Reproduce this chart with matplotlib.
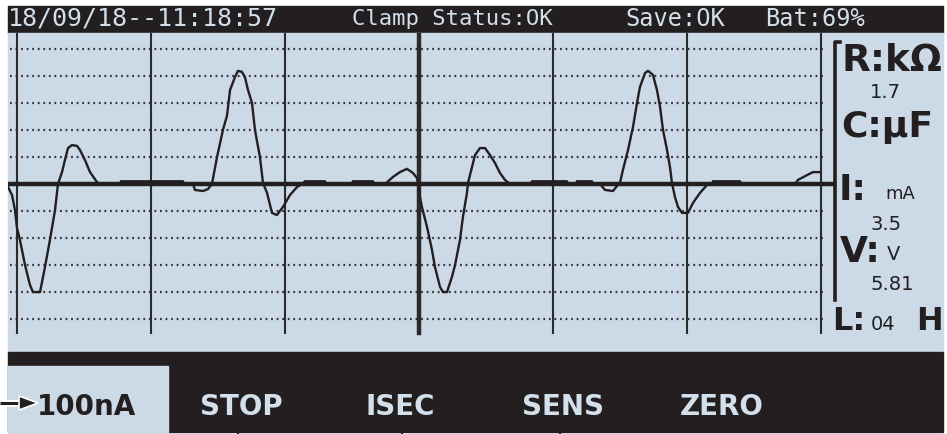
import matplotlib
matplotlib.use('agg')
import matplotlib.pyplot as plt
from matplotlib.patches import Rectangle, Polygon
from matplotlib.lines import Line2D

# screen colours
BLUE = '#ccd9e6'
DARK = '#231f20'
LIGHT = '#d3dfeb'

# status bar
status_text = ['18/09/18--11:18:57', 'Clamp Status:OK', 'Save:OK', 'Bat:69%']
status_x = [8, 352, 625, 765]

# soft keys
key_labels = ['100nA', 'STOP', 'ISEC', 'SENS', 'ZERO']
key_x = [37, 200, 365, 522, 680]

# grid (divisions)
grid_t = [0, 1, 2, 3, 4, 5, 6]
dot_levels = [-5, -4, -3, -2, -1, 1, 2, 3, 4, 5]

# captured trace, time and amplitude in divisions
trace_t = [-0.067, -0.037, -0.015, 0.0, 0.022, 0.060, 0.097, 0.119, 0.172, 0.209,
           0.246, 0.284, 0.306, 0.336, 0.358, 0.381, 0.410, 0.448, 0.470, 0.507,
           0.545, 0.597, 0.619, 0.769, 0.776, 1.239, 1.246, 1.313, 1.328, 1.388,
           1.425, 1.455, 1.493, 1.537, 1.567, 1.590, 1.627, 1.649, 1.679, 1.701,
           1.724, 1.754, 1.776, 1.813, 1.836, 1.866, 1.903, 1.940, 1.985, 2.037,
           2.090, 2.127, 2.149, 2.299, 2.306, 2.500, 2.507, 2.657, 2.664, 2.746,
           2.806, 2.858, 2.910, 2.955, 2.985, 2.993, 3.007, 3.022, 3.060, 3.097,
           3.119, 3.157, 3.179, 3.209, 3.246, 3.269, 3.306, 3.328, 3.358, 3.366,
           3.396, 3.418, 3.455, 3.493, 3.530, 3.567, 3.604, 3.642, 3.679, 3.836,
           3.843, 4.104, 4.112, 4.172, 4.179, 4.291, 4.299, 4.351, 4.388, 4.448,
           4.478, 4.500, 4.522, 4.560, 4.597, 4.627, 4.649, 4.687, 4.709, 4.746,
           4.776, 4.799, 4.821, 4.851, 4.873, 4.888, 4.910, 4.933, 4.963, 5.007,
           5.045, 5.097, 5.149, 5.187, 5.194, 5.396, 5.403, 5.806, 5.828, 5.896,
           5.940, 5.993]
trace_v = [-0.11, -0.41, -0.96, -1.63, -2.07, -3.0, -3.74, -4.0, -4.0, -3.07,
           -2.07, -0.96, 0.0, 0.44, 0.89, 1.33, 1.44, 1.41, 1.26, 0.89,
           0.44, 0.07, 0.0, 0.0, 0.1, 0.1, 0.0, 0.0, -0.22, -0.26,
           -0.19, 0.0, 1.0, 2.0, 2.52, 3.48, 3.96, 4.19, 4.15, 3.96,
           3.48, 3.0, 2.0, 1.0, 0.04, -0.33, -1.07, -1.15, -0.85, -0.41,
           -0.11, 0.0, 0.1, 0.1, 0.0, 0.0, 0.1, 0.1, 0.0, 0.0,
           0.26, 0.44, 0.56, 0.41, 0.22, 0.0, -0.48, -0.85, -1.59, -2.44,
           -3.07, -3.81, -4.0, -4.0, -3.44, -3.0, -2.07, -1.22, -0.33, 0.04,
           0.63, 1.07, 1.33, 1.33, 1.07, 0.78, 0.41, 0.15, 0.0, 0.0,
           0.1, 0.1, 0.0, 0.0, 0.1, 0.1, 0.0, 0.0, -0.22, -0.26,
           -0.07, 0.04, 0.52, 1.26, 2.11, 3.0, 3.59, 4.11, 4.19, 4.04,
           3.48, 2.85, 2.0, 1.26, 0.63, 0.04, -0.48, -0.85, -1.07, -1.07,
           -0.70, -0.33, -0.04, 0.0, 0.1, 0.1, 0.0, 0.0, 0.15, 0.33,
           0.44, 0.44]

W, H = 947, 434


def fx(x):
    return x / W


def fy(y):
    return 1 - y / H


def rect(fig, x0, y0, x1, y1, color):
    fig.patches.append(Rectangle((fx(x0), fy(y1)), (x1 - x0) / W, (y1 - y0) / H,
                                 transform=fig.transFigure, color=color, zorder=0))


def fline(fig, xs, ys, **kw):
    fig.lines.append(Line2D([fx(x) for x in xs], [fy(y) for y in ys],
                            transform=fig.transFigure, **kw))


fig = plt.figure(figsize=(W / 100, H / 100), dpi=100)
fig.patch.set_facecolor('white')

# screen blocks
rect(fig, 8, 6, 943, 33, DARK)
rect(fig, 8, 33, 943, 352, BLUE)
rect(fig, 8, 352, 943, 432, DARK)
rect(fig, 8, 366, 168, 432, BLUE)

# scope area
ax = fig.add_axes([fx(8), fy(352), (838 - 8) / W, (352 - 33) / H])
ax.set_zorder(2)
ax.patch.set_alpha(0)
ax.set_xlim(-0.067, 6.127)
ax.set_ylim(-6.22, 5.59)
ax.axis('off')

for lv in dot_levels:
    ax.plot([-0.052, 6.037], [lv, lv], color='#333333', lw=1.6,
            linestyle=(0, (0.8, 1.7)), solid_capstyle='butt')
for t in grid_t:
    ax.plot([t, t], [-5.52, 5.59], color='#2b2b2b', lw=3.2 if t == 3 else 1.5)
ax.plot([-0.067, 6.10], [0, 0], color=DARK, lw=3.2)
ax.plot(trace_t, trace_v, color=DARK, lw=1.7)

# bracket of the readout panel
fline(fig, [840, 835, 835], [42, 42, 300], color=DARK, lw=2.6)

# status bar text
for s, x, fs in zip(status_text, status_x, [18, 16, 17, 17]):
    fig.text(fx(x), fy(19), s, color=LIGHT, fontsize=fs, family='DejaVu Sans Mono',
             ha='left', va='center')

# readout panel
bold = dict(color=DARK, fontweight='bold', family='DejaVu Sans', va='center', ha='left')
norm = dict(color=DARK, family='DejaVu Sans', va='center', ha='left')
fig.text(fx(841), fy(61), 'R:k\u03a9', fontsize=27, **bold)
fig.text(fx(870), fy(93), '1.7', fontsize=14, **norm)
fig.text(fx(841), fy(127), 'C:\u00b5F', fontsize=26, **bold)
fig.text(fx(839), fy(190), 'I:', fontsize=26, **bold)
fig.text(fx(885), fy(194), 'mA', fontsize=13, **norm)
fig.text(fx(870), fy(225), '3.5', fontsize=14, **norm)
fig.text(fx(840), fy(252), 'V:', fontsize=26, **bold)
fig.text(fx(887), fy(255), 'V', fontsize=14, **norm)
fig.text(fx(870), fy(285), '5.81', fontsize=14, **norm)
fig.text(fx(832), fy(322), 'L:', fontsize=23, **bold)
fig.text(fx(871), fy(324), '04', fontsize=14, **norm)
fig.text(fx(916), fy(322), 'H', fontsize=23, **bold)

# soft keys
for i, (lab, x) in enumerate(zip(key_labels, key_x)):
    fig.text(fx(x), fy(407), lab, color=DARK if i == 0 else LIGHT, fontsize=20,
             fontweight='bold', family='DejaVu Sans', ha='left', va='center')

# pointer arrow on the active key
fline(fig, [0, 22], [403, 403], color='white', lw=5, solid_capstyle='butt', zorder=3)
fline(fig, [0, 22], [403, 403], color=DARK, lw=2.2, solid_capstyle='butt', zorder=4)
fig.patches.append(Polygon([(fx(19), fy(396)), (fx(38), fy(403)), (fx(19), fy(410))],
                           closed=True, transform=fig.transFigure, facecolor=DARK,
                           edgecolor='white', lw=1.2, zorder=4))

# small ticks under the key bar
for x in [238, 402, 560]:
    fline(fig, [x, x], [432, 434], color=DARK, lw=1.5)

fig.savefig('out.png', dpi=100, facecolor='white')
